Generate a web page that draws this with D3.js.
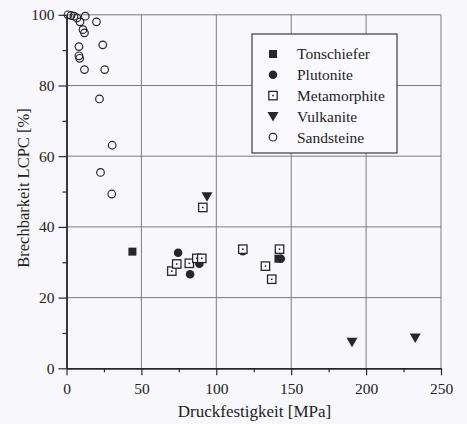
<!DOCTYPE html>
<html>
<head>
<meta charset="utf-8">
<script src="https://cdn.jsdelivr.net/npm/d3@7"></script>
<style>
  body { margin: 0; background: #f8f8fc; }
  svg { display: block; }
  svg text { font-family: "Liberation Serif", "DejaVu Serif", serif; }
</style>
</head>
<body>
<svg></svg>
<script>
const width = 467;
const height = 424;

// data: [Druckfestigkeit MPa, Brechbarkeit %]
const tonschiefer = [[44, 33], [141.5, 31]];
const plutonite = [[74.5, 32.7], [82.5, 26.6], [88.7, 29.6], [117.7, 33.1], [143, 31]];
const metamorphite = [[70.3, 27.5], [73.6, 29.5], [82, 29.7], [87, 31.1], [90.3, 31.1],
    [91, 45.5], [117.7, 33.7], [132.8, 28.9], [137, 25.2], [142.2, 33.7]];
const vulkanite = [[93.8, 48.5], [190.6, 7.4], [232.8, 8.6]];
const sandsteine = [[1, 100], [3, 99.8], [5, 99.6], [7, 99.1], [9, 98], [12.5, 99.6], [20, 98],
    [11, 95.8], [12, 94.9], [8.3, 91], [24.2, 91.5], [8.3, 88.4], [8.8, 87.7], [12, 84.5],
    [25.5, 84.5], [22, 76.2], [30.5, 63.1], [22.7, 55.4], [30.2, 49.3]];

const legendLabels = ["Tonschiefer", "Plutonite", "Metamorphite", "Vulkanite", "Sandsteine"];
const xTicks = [0, 50, 100, 150, 200, 250];
const xMinor = [25, 75, 125, 175, 225];
const yTicks = [0, 20, 40, 60, 80, 100];
const yMinor = [10, 30, 50, 70, 90];

const ink = "#26262e";
const serif = "'Liberation Serif', 'DejaVu Serif', serif";

let svg = d3.select("svg")
    .attr("width", width)
    .attr("height", height);

let x = d3.scaleLinear().domain([0, 250]).range([66.5, 441]);
let y = d3.scaleLinear().domain([0, 100]).range([368.3, 14.8]);

// grid
svg.append("g")
    .selectAll("line")
    .data(xTicks.slice(1))
    .enter()
    .append("line")
    .attr("x1", d => x(d)).attr("x2", d => x(d))
    .attr("y1", y(0)).attr("y2", y(100))
    .attr("stroke", "#7a7a82").attr("stroke-width", 1);

svg.append("g")
    .selectAll("line")
    .data(yTicks.slice(1))
    .enter()
    .append("line")
    .attr("x1", x(0)).attr("x2", x(250))
    .attr("y1", d => y(d)).attr("y2", d => y(d))
    .attr("stroke", "#7a7a82").attr("stroke-width", 1);

// axes
svg.append("g")
    .attr("transform", `translate(0, ${y(0)})`)
    .call(d3.axisBottom(x).tickValues(xTicks).tickSize(7).tickSizeOuter(0).tickPadding(8));
svg.append("g")
    .attr("transform", `translate(0, ${y(0)})`)
    .call(d3.axisBottom(x).tickValues(xMinor).tickSize(4).tickSizeOuter(0).tickFormat(""));

svg.append("g")
    .attr("transform", `translate(${x(0)}, 0)`)
    .call(d3.axisLeft(y).tickValues(yTicks).tickSize(8).tickSizeOuter(0).tickPadding(4));
svg.append("g")
    .attr("transform", `translate(${x(0)}, 0)`)
    .call(d3.axisLeft(y).tickValues(yMinor).tickSize(4).tickSizeOuter(0).tickFormat(""));

svg.selectAll("g").attr("font-family", serif).attr("font-size", null);
svg.selectAll(".domain").attr("stroke", ink).attr("stroke-width", 1.4);
svg.selectAll(".tick line").attr("stroke", ink).attr("stroke-width", 1.2);
svg.selectAll(".tick text")
    .attr("fill", "#222")
    .attr("font-family", serif)
    .attr("font-size", "15.5px");

svg.append("text")
    .attr("x", 254.5)
    .attr("y", 417)
    .attr("text-anchor", "middle")
    .attr("fill", "#222")
    .attr("font-family", serif)
    .attr("font-size", "17px")
    .text("Druckfestigkeit [MPa]");

svg.append("text")
    .attr("transform", "translate(29, 188) rotate(-90)")
    .attr("text-anchor", "middle")
    .attr("fill", "#222")
    .attr("font-family", serif)
    .attr("font-size", "16.5px")
    .text("Brechbarkeit LCPC [%]");

// marker drawing
function drawMarker(g, kind, cx, cy) {
    if (kind == 0) {
        g.append("rect")
            .attr("x", cx - 4).attr("y", cy - 4).attr("width", 8).attr("height", 8)
            .attr("fill", ink);
    }
    else if (kind == 1) {
        g.append("circle")
            .attr("cx", cx).attr("cy", cy).attr("r", 4.3)
            .attr("fill", ink);
    }
    else if (kind == 2) {
        g.append("rect")
            .attr("x", cx - 4.2).attr("y", cy - 4.2).attr("width", 8.4).attr("height", 8.4)
            .attr("fill", "#fbfbff").attr("stroke", ink).attr("stroke-width", 1.3);
        g.append("rect")
            .attr("x", cx - 0.8).attr("y", cy - 0.8).attr("width", 1.6).attr("height", 1.6)
            .attr("fill", ink);
    }
    else if (kind == 3) {
        g.append("path")
            .attr("d", `M${cx - 5.5},${cy - 4.5}L${cx + 5.5},${cy - 4.5}L${cx},${cy + 5}Z`)
            .attr("fill", ink);
    }
    else {
        g.append("circle")
            .attr("cx", cx).attr("cy", cy).attr("r", 3.8)
            .attr("fill", "none").attr("stroke", ink).attr("stroke-width", 1.2);
    }
}

let series = [tonschiefer, plutonite, metamorphite, vulkanite, sandsteine];
let plot = svg.append("g");
series.forEach((data, k) => {
    data.forEach(d => drawMarker(plot, k, x(d[0]), y(d[1])));
});

// legend
let legend = svg.append("g");
legend.append("rect")
    .attr("x", 252).attr("y", 34)
    .attr("width", 145).attr("height", 119)
    .attr("fill", "#fafafe")
    .attr("stroke", "#3a3a44").attr("stroke-width", 1.2);

legendLabels.forEach((label, i) => {
    let ly = 54 + i * 20.8;
    drawMarker(legend, i, 273, ly);
    legend.append("text")
        .attr("x", 297)
        .attr("y", ly)
        .attr("dy", "0.35em")
        .attr("fill", "#222")
        .attr("font-family", serif)
        .attr("font-size", "15.5px")
        .text(label);
});
</script>
</body>
</html>
